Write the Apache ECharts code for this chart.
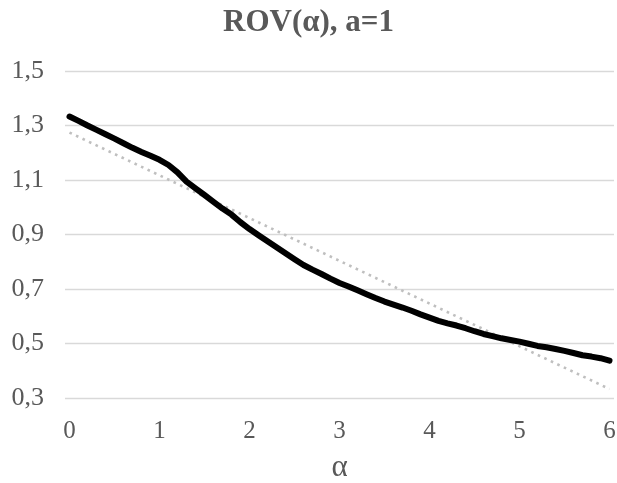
<!DOCTYPE html>
<html>
<head>
<meta charset="utf-8">
<script src="https://cdn.jsdelivr.net/npm/echarts@6/dist/echarts.min.js"></script>
<style>
html,body{margin:0;padding:0;background:#fff;}
#chart{width:617px;height:483px;}
</style>
</head>
<body>
<div id="chart"></div>
<script>
// alpha categories, step 0.1 from 0 to 6
const alphaCategories = ['0','0.1','0.2','0.3','0.4','0.5','0.6','0.7','0.8','0.9',
  '1','1.1','1.2','1.3','1.4','1.5','1.6','1.7','1.8','1.9',
  '2','2.1','2.2','2.3','2.4','2.5','2.6','2.7','2.8','2.9',
  '3','3.1','3.2','3.3','3.4','3.5','3.6','3.7','3.8','3.9',
  '4','4.1','4.2','4.3','4.4','4.5','4.6','4.7','4.8','4.9',
  '5','5.1','5.2','5.3','5.4','5.5','5.6','5.7','5.8','5.9','6'];
// ROV(alpha), a=1
const rovValues = [1.333,1.317,1.300,1.284,1.268,1.252,1.235,1.218,1.203,1.189,
  1.174,1.155,1.128,1.094,1.069,1.045,1.020,0.995,0.973,0.945,
  0.920,0.897,0.875,0.853,0.831,0.809,0.788,0.771,0.755,0.738,
  0.722,0.709,0.695,0.681,0.667,0.654,0.643,0.632,0.620,0.607,
  0.595,0.583,0.574,0.566,0.556,0.545,0.535,0.527,0.519,0.513,
  0.507,0.499,0.491,0.486,0.480,0.473,0.465,0.457,0.452,0.446,0.437];
// linear trendline end points
const trendPoints = [['0', 1.274], ['6', 0.333]];
const yTicks = [0.3, 0.5, 0.7, 0.9, 1.1, 1.3, 1.5];

const chart = echarts.init(document.getElementById('chart'), null, {renderer: 'canvas'});
const txt = '#595959';
const serif = '"Liberation Serif", "Times New Roman", serif';
chart.setOption({
  animation: false,
  backgroundColor: '#ffffff',
  title: {
    text: 'ROV(α), a=1',
    left: 'center',
    top: 2,
    textStyle: {fontFamily: serif, fontWeight: 'bold', fontSize: 31, color: txt}
  },
  grid: {left: 65, right: 3, top: 71, bottom: 85, containLabel: false, outerBoundsMode: 'none'},
  xAxis: {
    type: 'category',
    data: alphaCategories,
    boundaryGap: true,
    name: 'α',
    nameLocation: 'middle',
    nameGap: 54,
    nameTextStyle: {fontFamily: serif, fontSize: 31, color: txt},
    axisLine: {show: false},
    axisTick: {show: false},
    axisLabel: {interval: 9, margin: 21, fontFamily: serif, fontSize: 25, color: txt},
    splitLine: {show: false}
  },
  yAxis: {
    type: 'value',
    min: yTicks[0],
    max: yTicks[yTicks.length - 1],
    interval: 0.2,
    axisLine: {show: false},
    axisTick: {show: false},
    axisLabel: {
      margin: 21, fontFamily: serif, fontSize: 26, color: txt,
      formatter: v => v.toFixed(1).replace('.', ',')
    },
    splitLine: {lineStyle: {color: '#d9d9d9', width: 1.3}}
  },
  series: [
    {
      type: 'line',
      name: 'trend',
      data: trendPoints,
      showSymbol: false,
      symbol: 'none',
      lineStyle: {color: '#bfbfbf', width: 2.6, type: [2.6, 4.6], cap: 'butt'},
      z: 2
    },
    {
      type: 'line',
      name: 'ROV',
      data: rovValues,
      showSymbol: false,
      symbol: 'none',
      smooth: false,
      lineStyle: {color: '#000000', width: 6, cap: 'round', join: 'round'},
      z: 3
    }
  ]
});
</script>
</body>
</html>
